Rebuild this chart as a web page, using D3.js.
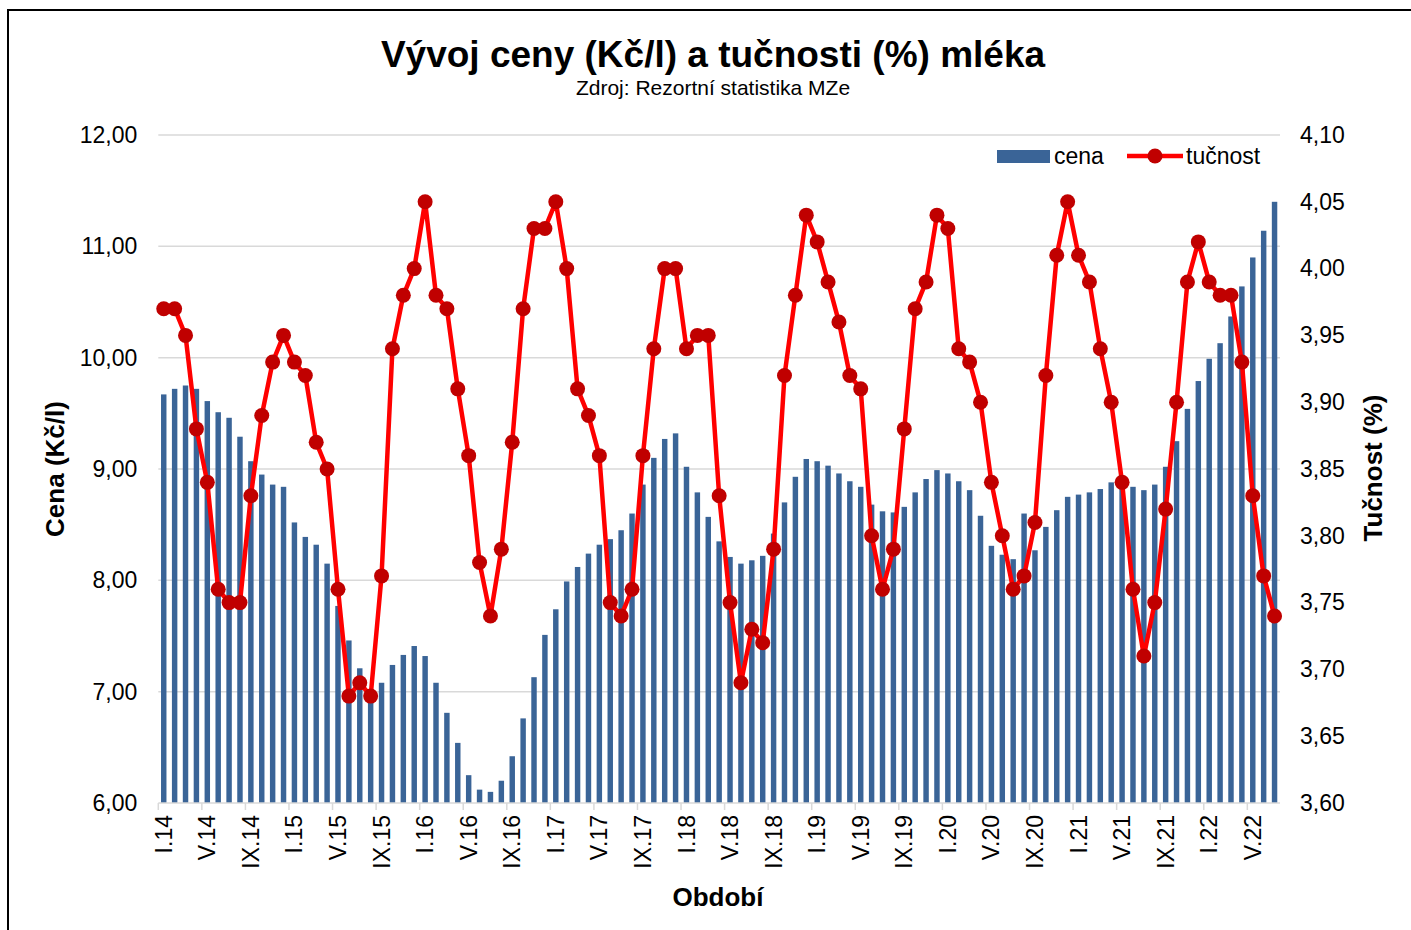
<!DOCTYPE html>
<html>

<head>
    <title>mleko</title>
    <meta charset="utf-8">
    <script src="https://cdn.jsdelivr.net/npm/d3@7"></script>
    <style>
        body { margin: 0; background: #fff; }
        text { font-family: "Liberation Sans", Arial, sans-serif; fill: #000; }
    </style>
</head>

<body>
    <script>
        const width = 1411;
        const height = 930;

        // data, months I.14 .. VII.22
        const years = ["14", "15", "16", "17", "18", "19", "20", "21", "22"];
        const months = ["I", "II", "III", "IV", "V", "VI", "VII", "VIII", "IX", "X", "XI", "XII"];

        const cena = [
            9.67, 9.72, 9.75, 9.72, 9.61, 9.51, 9.46, 9.29, 9.07, 8.95, 8.86, 8.84,
            8.52, 8.39, 8.32, 8.15, 7.77, 7.46, 7.21, 6.97, 7.08, 7.24, 7.33, 7.41,
            7.32, 7.08, 6.81, 6.54, 6.25, 6.12, 6.10, 6.20, 6.42, 6.76, 7.13, 7.51,
            7.74, 7.99, 8.12, 8.24, 8.32, 8.37, 8.45, 8.60, 8.86, 9.10, 9.27, 9.32,
            9.02, 8.79, 8.57, 8.35, 8.21, 8.15, 8.18, 8.22, 8.42, 8.70, 8.93, 9.09,
            9.07, 9.03, 8.96, 8.89, 8.84, 8.68, 8.62, 8.61, 8.66, 8.79, 8.91, 8.99,
            8.96, 8.89, 8.81, 8.58, 8.31, 8.23, 8.19, 8.60, 8.27, 8.48, 8.63, 8.75,
            8.77, 8.79, 8.82, 8.88, 8.85, 8.84, 8.81, 8.86, 9.02, 9.25, 9.54, 9.79,
            9.99, 10.13, 10.37, 10.64, 10.90, 11.14, 11.40
        ];

        const tucnost = [
            3.97, 3.97, 3.95, 3.88, 3.84, 3.76, 3.75, 3.75, 3.83, 3.89, 3.93, 3.95,
            3.93, 3.92, 3.87, 3.85, 3.76, 3.68, 3.69, 3.68, 3.77, 3.94, 3.98, 4.00,
            4.05, 3.98, 3.97, 3.91, 3.86, 3.78, 3.74, 3.79, 3.87, 3.97, 4.03, 4.03,
            4.05, 4.00, 3.91, 3.89, 3.86, 3.75, 3.74, 3.76, 3.86, 3.94, 4.00, 4.00,
            3.94, 3.95, 3.95, 3.83, 3.75, 3.69, 3.73, 3.72, 3.79, 3.92, 3.98, 4.04,
            4.02, 3.99, 3.96, 3.92, 3.91, 3.80, 3.76, 3.79, 3.88, 3.97, 3.99, 4.04,
            4.03, 3.94, 3.93, 3.90, 3.84, 3.80, 3.76, 3.77, 3.81, 3.92, 4.01, 4.05,
            4.01, 3.99, 3.94, 3.90, 3.84, 3.76, 3.71, 3.75, 3.82, 3.90, 3.99, 4.02,
            3.99, 3.98, 3.98, 3.93, 3.83, 3.77, 3.74
        ];

        const tickLabels = [
            "I.14", "V.14", "IX.14", "I.15", "V.15", "IX.15", "I.16", "V.16", "IX.16",
            "I.17", "V.17", "IX.17", "I.18", "V.18", "IX.18", "I.19", "V.19", "IX.19",
            "I.20", "V.20", "IX.20", "I.21", "V.21", "IX.21", "I.22", "V.22"
        ];

        const leftTicks = [6, 7, 8, 9, 10, 11, 12];
        const rightTicks = [3.60, 3.65, 3.70, 3.75, 3.80, 3.85, 3.90, 3.95, 4.00, 4.05, 4.10];

        const categories = years.flatMap(y => months.map(m => m + "." + y)).slice(0, cena.length);

        const barColor = "#3a6497";
        const lineColor = "#ff0000";
        const markerColor = "#c00000";
        const gridColor = "#d9d9d9";
        const comma = d => d3.format(".2f")(d).replace(".", ",");

        const plot = { left: 158.3, right: 1280, top: 135, bottom: 803 };

        const x = d3.scaleBand()
            .domain(categories)
            .range([plot.left, plot.right])
            .paddingInner(0.5)
            .paddingOuter(0.25);
        const step = x.step();

        const yL = d3.scaleLinear().domain([6, 12]).range([plot.bottom, plot.top]);
        const yR = d3.scaleLinear().domain([3.6, 4.1]).range([plot.bottom, plot.top]);

        const svg = d3.select("body").append("svg")
            .attr("width", width)
            .attr("height", height)
            .attr("viewBox", [0, 0, width, height]);

        // chart frame
        svg.append("rect")
            .attr("x", 8).attr("y", 10)
            .attr("width", width + 20).attr("height", height + 20)
            .attr("fill", "none")
            .attr("stroke", "#000")
            .attr("stroke-width", 2);

        // gridlines
        svg.append("g")
            .selectAll("line")
            .data(leftTicks.slice(1))
            .join("line")
            .attr("x1", plot.left).attr("x2", plot.right)
            .attr("y1", d => yL(d)).attr("y2", d => yL(d))
            .attr("stroke", gridColor)
            .attr("stroke-width", 1.5);

        // bars
        svg.append("g")
            .selectAll("rect")
            .data(cena)
            .join("rect")
            .attr("x", (d, i) => x(categories[i]))
            .attr("width", x.bandwidth())
            .attr("y", d => yL(d))
            .attr("height", d => yL(6) - yL(d))
            .attr("fill", barColor);

        // x axis line + ticks between categories
        const gx = svg.append("g");
        gx.append("line")
            .attr("x1", plot.left).attr("x2", plot.right)
            .attr("y1", plot.bottom).attr("y2", plot.bottom)
            .attr("stroke", gridColor)
            .attr("stroke-width", 1.5);

        const labelled = categories.filter((c, i) => i % 4 === 0);
        gx.selectAll(".tick")
            .data(labelled)
            .join("line")
            .attr("class", "tick")
            .attr("x1", d => x(d) - step * 0.25).attr("x2", d => x(d) - step * 0.25)
            .attr("y1", plot.bottom).attr("y2", plot.bottom + 7)
            .attr("stroke", gridColor)
            .attr("stroke-width", 1.5);

        gx.selectAll(".lbl")
            .data(labelled)
            .join("text")
            .attr("class", "lbl")
            .attr("transform", d => `translate(${x(d) + x.bandwidth() / 2},815) rotate(-90)`)
            .attr("text-anchor", "end")
            .attr("dy", "0.35em")
            .attr("font-size", 23)
            .text((d, i) => tickLabels[i]);

        // left axis
        svg.append("g")
            .attr("transform", `translate(${plot.left},0)`)
            .call(d3.axisLeft(yL).tickValues(leftTicks).tickFormat(comma).tickSize(0).tickPadding(21))
            .call(g => g.select(".domain").remove())
            .call(g => g.selectAll("text").attr("font-size", 23).attr("font-family", null).attr("fill", "#000"));

        // right axis
        svg.append("g")
            .attr("transform", `translate(${plot.right},0)`)
            .call(d3.axisRight(yR).tickValues(rightTicks).tickFormat(comma).tickSize(0).tickPadding(20))
            .call(g => g.select(".domain").remove())
            .call(g => g.selectAll("text").attr("font-size", 23).attr("font-family", null).attr("fill", "#000"));

        // tucnost line
        const cx = i => x(categories[i]) + x.bandwidth() / 2;
        const line = d3.line()
            .x((d, i) => cx(i))
            .y(d => yR(d));

        svg.append("path")
            .datum(tucnost)
            .attr("d", line)
            .attr("fill", "none")
            .attr("stroke", lineColor)
            .attr("stroke-width", 4.5)
            .attr("stroke-linejoin", "round");

        svg.append("g")
            .selectAll("circle")
            .data(tucnost)
            .join("circle")
            .attr("cx", (d, i) => cx(i))
            .attr("cy", d => yR(d))
            .attr("r", 7.5)
            .attr("fill", markerColor);

        // titles
        svg.append("text")
            .attr("x", 713).attr("y", 67)
            .attr("text-anchor", "middle")
            .attr("font-size", 37)
            .attr("font-weight", "bold")
            .text("Vývoj ceny (Kč/l) a tučnosti (%) mléka");

        svg.append("text")
            .attr("x", 713).attr("y", 95)
            .attr("text-anchor", "middle")
            .attr("font-size", 21)
            .text("Zdroj: Rezortní statistika MZe");

        svg.append("text")
            .attr("transform", "translate(55,469) rotate(-90)")
            .attr("text-anchor", "middle")
            .attr("dy", "0.35em")
            .attr("font-size", 26)
            .attr("font-weight", "bold")
            .text("Cena (Kč/l)");

        svg.append("text")
            .attr("transform", "translate(1373,468) rotate(-90)")
            .attr("text-anchor", "middle")
            .attr("dy", "0.35em")
            .attr("font-size", 26)
            .attr("font-weight", "bold")
            .text("Tučnost (%)");

        svg.append("text")
            .attr("x", 718).attr("y", 897)
            .attr("text-anchor", "middle")
            .attr("dy", "0.35em")
            .attr("font-size", 26)
            .attr("font-weight", "bold")
            .text("Období");

        // legend
        const lg = svg.append("g");
        lg.append("rect")
            .attr("x", 997).attr("y", 150)
            .attr("width", 53).attr("height", 13)
            .attr("fill", barColor);
        lg.append("text")
            .attr("x", 1054).attr("y", 156)
            .attr("dy", "0.35em")
            .attr("font-size", 23)
            .text("cena");
        lg.append("line")
            .attr("x1", 1127).attr("x2", 1183)
            .attr("y1", 156).attr("y2", 156)
            .attr("stroke", lineColor)
            .attr("stroke-width", 4.5);
        lg.append("circle")
            .attr("cx", 1155).attr("cy", 156)
            .attr("r", 7.5)
            .attr("fill", markerColor);
        lg.append("text")
            .attr("x", 1186).attr("y", 156)
            .attr("dy", "0.35em")
            .attr("font-size", 23)
            .text("tučnost");
    </script>
</body>

</html>
